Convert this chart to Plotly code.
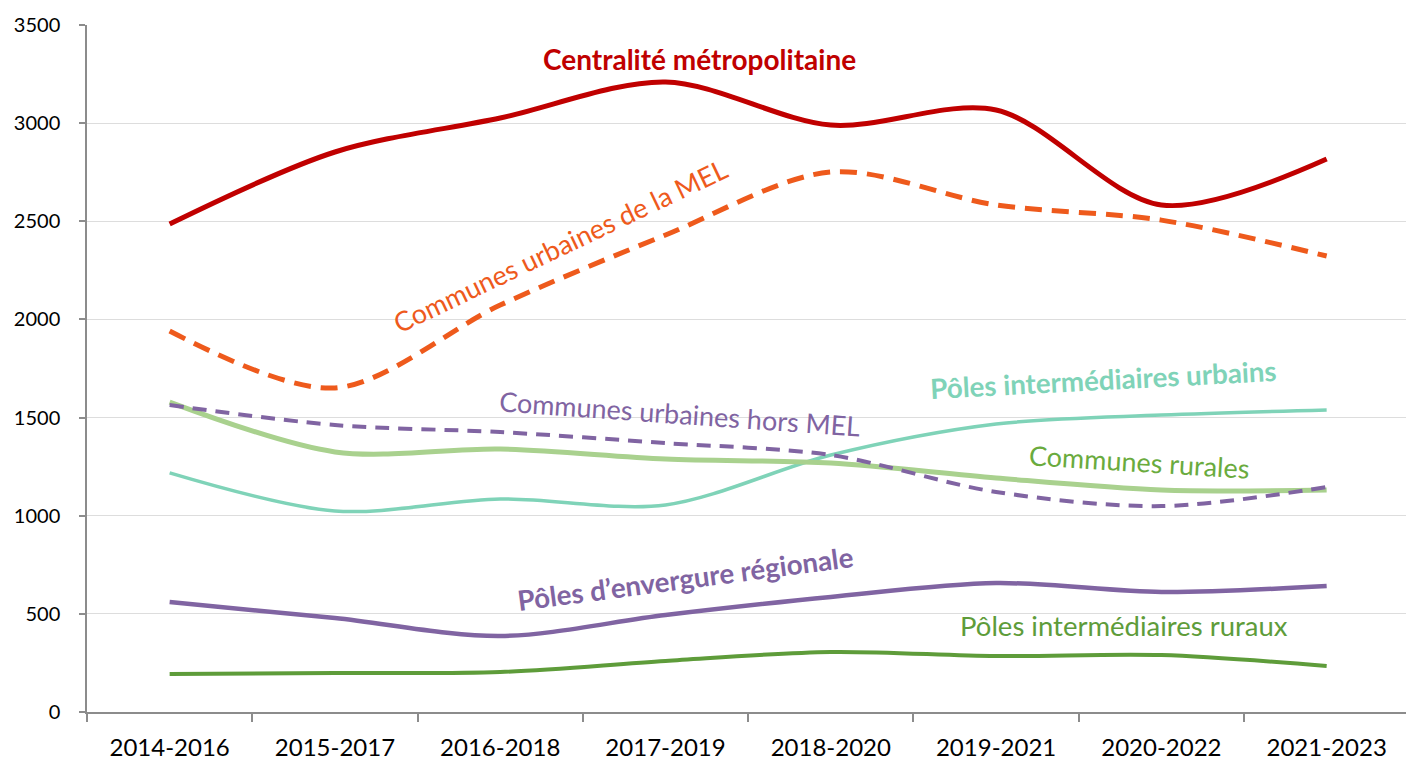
import plotly.graph_objects as go

periods = ["2014-2016", "2015-2017", "2016-2018", "2017-2019", "2018-2020", "2019-2021", "2020-2022", "2021-2023"]

centralite = [2486, 2853, 3026, 3210, 2990, 3067, 2583, 2817]
urb_mel = [1941, 1651, 2073, 2430, 2751, 2583, 2506, 2323]
urb_hors_mel = [1564, 1462, 1426, 1370, 1309, 1121, 1049, 1146]
rurales = [1579, 1325, 1340, 1289, 1268, 1192, 1131, 1131]
pi_urbains = [1218, 1024, 1085, 1055, 1309, 1467, 1513, 1539]
envergure = [560, 479, 387, 494, 586, 657, 611, 642]
pi_ruraux = [194, 199, 204, 260, 306, 285, 290, 234]

y_ticks = [0, 500, 1000, 1500, 2000, 2500, 3000, 3500]

FONT = "Lato, Carlito, Calibri, sans-serif"

series = [
    ("Pôles intermédiaires ruraux", pi_ruraux, "#5E9C3A", 4, "solid"),
    ("Pôles d’envergure régionale", envergure, "#8064A2", 4.5, "solid"),
    ("Pôles intermédiaires urbains", pi_urbains, "#7FD3B8", 3.5, "solid"),
    ("Communes rurales", rurales, "#A9D18E", 5, "solid"),
    ("Communes urbaines hors MEL", urb_hors_mel, "#8064A2", 4, "14px,9px"),
    ("Communes urbaines de la MEL", urb_mel, "#EE5A1C", 5, "17px,10px"),
    ("Centralité métropolitaine", centralite, "#C00000", 5, "solid"),
]

fig = go.Figure()
for name, vals, color, w, dash in series:
    fig.add_trace(go.Scatter(
        x=periods, y=vals, mode="lines", name=name,
        line=dict(color=color, width=w, dash=dash, shape="spline", smoothing=0.9),
    ))

L, R, T, B = 87, 0, 25, 48
W, H = 1406, 760

# label text, centre in figure pixels, angle, colour, size
annots = [
    ("<b>Centralité métropolitaine</b>", 699, 59, 0, "#C00000", 28),
    ("Communes urbaines de la MEL", 560, 245, -25.5, "#EE5A1C", 27),
    ("Communes urbaines hors MEL", 680, 413, 4, "#8064A2", 27),
    ("<b>Pôles intermédiaires urbains</b>", 1103, 379, -3, "#7FD3B8", 27.7),
    ("Communes rurales", 1139, 461, 3.5, "#6AAB3E", 27),
    ("<b>Pôles d’envergure régionale</b>", 685, 578, -7.5, "#8064A2", 27.7),
    ("Pôles intermédiaires ruraux", 1124, 625, 0, "#5E9C3A", 27.5),
]
new_annots = []
for text, px, py, ang, color, size in annots:
    new_annots.append(dict(
        text=text, x=(px - L) / (W - L - R), y=((H - B) - py) / (H - T - B),
        xref="paper", yref="paper", showarrow=False, textangle=ang,
        xanchor="center", yanchor="middle",
        font=dict(family=FONT, size=size, color=color),
    ))
fig.layout.annotations = new_annots

fig.update_layout(
    width=W, height=H,
    margin=dict(l=L, r=R, t=T, b=B, autoexpand=False),
    paper_bgcolor="white", plot_bgcolor="white",
    showlegend=False,
    font=dict(family=FONT, color="black"),
    xaxis=dict(
        type="category", tickson="boundaries", ticks="outside", ticklen=8,
        tickcolor="#8C8C8C", tickwidth=1.5, range=[-0.5, 7.48],
        showline=True, linecolor="#8C8C8C", linewidth=1.5,
        showgrid=False, tickfont=dict(size=24, color="black"),
        ticklabelstandoff=13, automargin=False,
    ),
    yaxis=dict(
        range=[0, 3500], tickvals=y_ticks, ticks="outside", ticklen=6,
        tickcolor="#8C8C8C", tickwidth=1.5,
        showline=True, linecolor="#8C8C8C", linewidth=1.5,
        showgrid=True, gridcolor="#DDDDDD", gridwidth=1,
        zeroline=False, tickfont=dict(size=20, color="black"),
        ticklabelstandoff=15, automargin=False,
    ),
)

fig.write_html(
    "out.html",
    config={"displayModeBar": False},
    post_script="document.body.style.margin='0';document.body.style.overflow='hidden';",
)
